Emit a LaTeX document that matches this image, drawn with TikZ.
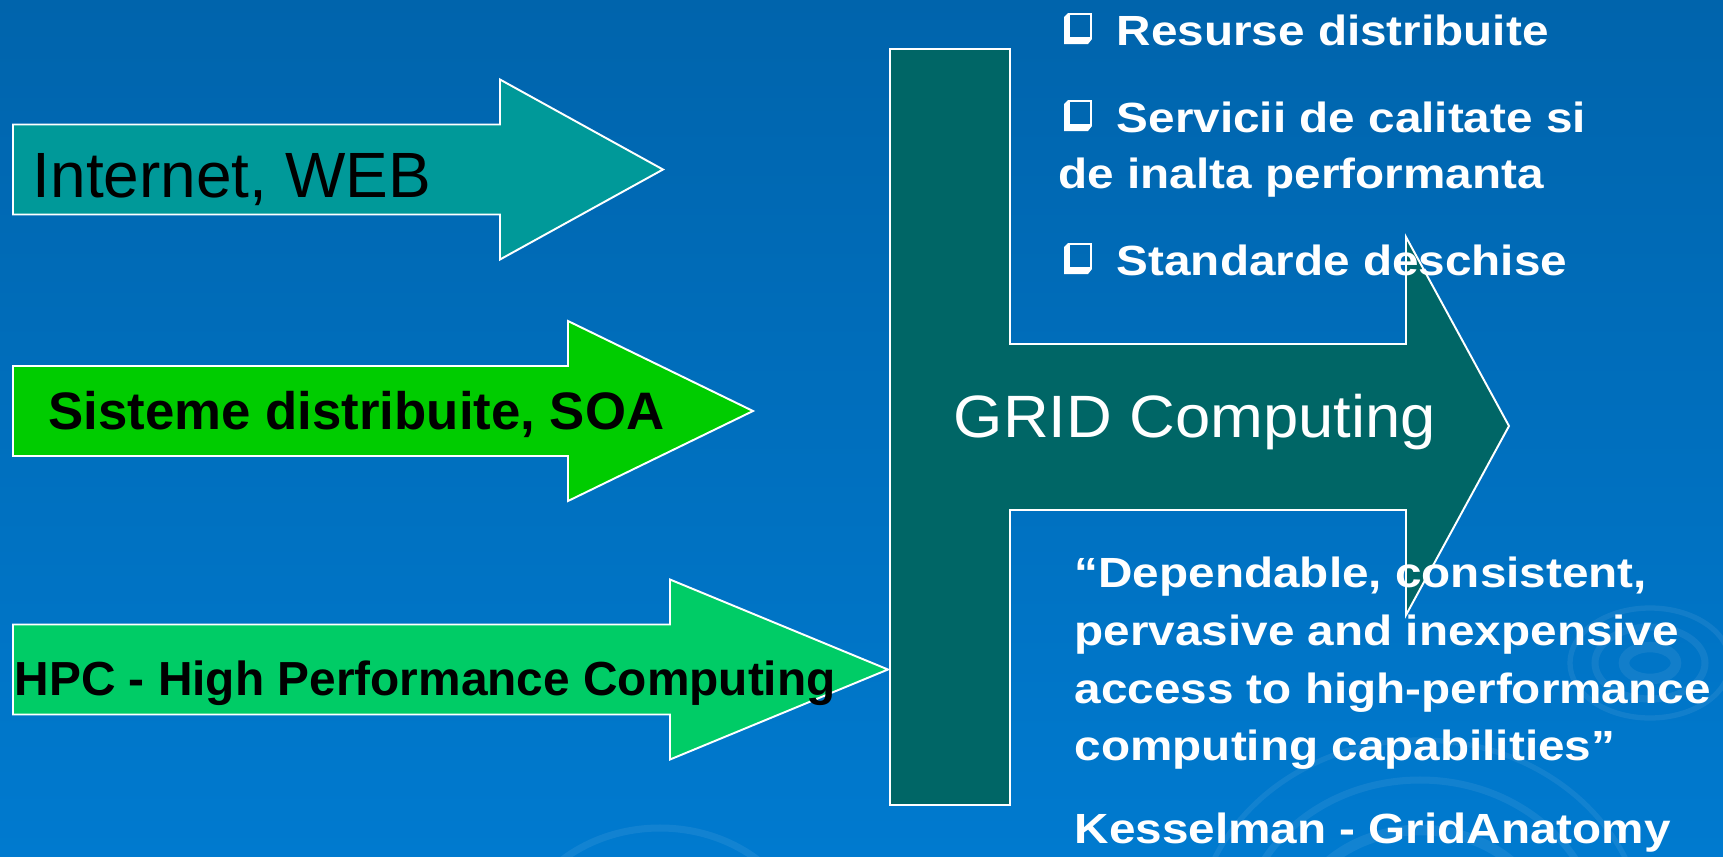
\documentclass[tikz,border=0pt]{standalone}
\usepackage{fontspec}
\setmainfont{Liberation Sans}
\newfontfamily\wideSans[FakeStretch=1.13]{Liberation Sans}
\newfontfamily\gridSans[FakeStretch=1.06]{Liberation Sans}
\usetikzlibrary{positioning}

\definecolor{slideTop}{RGB}{0,100,172}
\definecolor{slideBottom}{RGB}{0,122,207}
\definecolor{webTeal}{RGB}{0,153,153}
\definecolor{soaGreen}{RGB}{0,204,0}
\definecolor{hpcGreen}{RGB}{0,204,102}
\definecolor{gridTeal}{RGB}{0,102,102}

% fill, left x, centre y, head base x, tip x
\newcommand{\fatArrow}[5]{%
  \filldraw[fill=#1, arrowEdge] (#2,#3-45) -- (#4,#3-45) -- (#4,#3-90) -- (#5,#3)
    -- (#4,#3+90) -- (#4,#3+45) -- (#2,#3+45) -- cycle;}

% hollow square bullet with its shadow, top left corner given
\newcommand{\boxBullet}[2]{%
  \fill[white] (#1,#2) -- (#1-4,#2+4) -- (#1-4,#2+31) -- (#1+20,#2+31)
    -- (#1+24,#2+26) -- (#1,#2+26) -- cycle;
  \draw[white, line width=0.75pt] (#1+1,#2+1) rectangle (#1+23,#2+25);}

\begin{document}
\begin{tikzpicture}[x=0.01cm, y=-0.01cm,
    arrowEdge/.style={draw=white, line width=0.55pt, line join=miter},
    darkLabel/.style={inner sep=0pt, anchor=base west, text=black},
    lightLabel/.style={inner sep=0pt, anchor=base west, text=white,
      font=\wideSans\fontsize{12}{14}\selectfont\bfseries},
    swirl/.style={draw=white, opacity=0.07, line width=3pt}
]

    % Background
    \useasboundingbox (0,0) rectangle (1723,857);
    \fill[top color=slideTop, bottom color=slideBottom] (0,0) rectangle (1723,857);
    \draw[swirl] (1650,663) ellipse (26 and 16);
    \draw[swirl, line width=2pt] (1650,663) ellipse (55 and 36);
    \draw[swirl, line width=1.5pt] (1650,663) ellipse (80 and 55);
    \draw[swirl] (1420,940) ellipse (130 and 110);
    \draw[swirl, line width=2pt] (1420,940) ellipse (180 and 160);
    \draw[swirl, line width=1.5pt] (1420,940) ellipse (225 and 200);
    \draw[swirl] (660,960) ellipse (110 and 95);
    \draw[swirl, line width=2pt] (660,960) ellipse (150 and 132);

    % Arrows
    \fatArrow{webTeal}{13}{169.5}{500}{663}
    \fatArrow{soaGreen}{13}{411}{568}{753}
    \fatArrow{hpcGreen}{13}{669.5}{670}{888}
    \filldraw[fill=gridTeal, arrowEdge] (890,49) -- (1010,49) -- (1010,344) -- (1406,344)
      -- (1406,237) -- (1509,426) -- (1406,615) -- (1406,510) -- (1010,510)
      -- (1010,805) -- (890,805) -- cycle;

    % Nodes
    \node[darkLabel, font=\fontsize{18.2}{22}\selectfont] (web) at (32,197) {Internet, WEB};
    \node[darkLabel, font=\fontsize{15}{18}\selectfont\bfseries] (soa) at (48,429) {Sisteme distribuite, SOA};
    \node[darkLabel, font=\fontsize{13.6}{16}\selectfont\bfseries] (hpc) at (14,695) {HPC - High Performance Computing};
    \node[inner sep=0pt, anchor=base west, text=white, font=\gridSans\fontsize{17}{20}\selectfont] (grid) at (953,437) {GRID Computing};

    % Bullets
    \boxBullet{1068}{13}
    \node[lightLabel] (resurse) at (1116,45) {Resurse distribuite};
    \boxBullet{1068}{100}
    \node[lightLabel] (servicii) at (1116,132) {Servicii de calitate si};
    \node[lightLabel] (inalta) at (1058,188) {de inalta performanta};
    \boxBullet{1068}{243}
    \node[lightLabel] (standarde) at (1116,275) {Standarde deschise};

    % Quote
    \node[lightLabel] (quoteA) at (1074,587) {“Dependable, consistent,};
    \node[lightLabel] (quoteB) at (1074,645) {pervasive and inexpensive};
    \node[lightLabel] (quoteC) at (1074,703) {access to high-performance};
    \node[lightLabel] (quoteD) at (1074,760) {computing capabilities”};
    \node[lightLabel] (source) at (1074,843) {Kesselman - GridAnatomy};

\end{tikzpicture}
\end{document}
